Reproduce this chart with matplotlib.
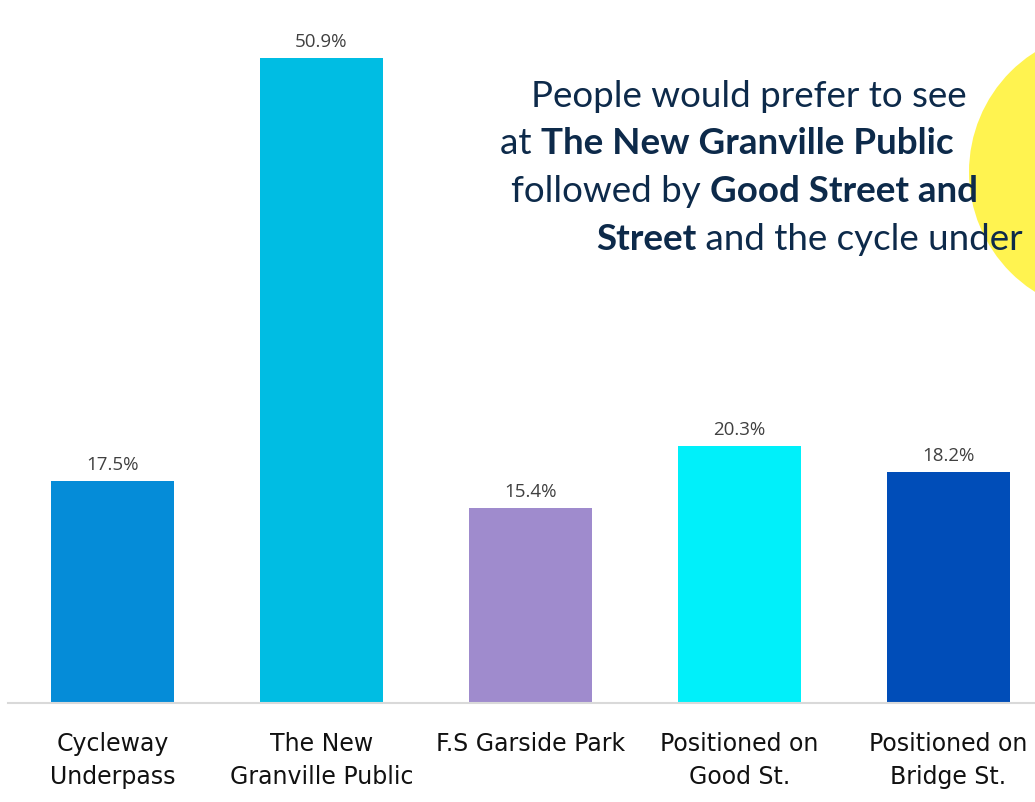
import matplotlib as mpl
mpl.use('Agg')
import matplotlib.pyplot as plt
from matplotlib.patches import Circle

categorias = ['Cycleway\nUnderpass', 'The New\nGranville Public', 'F.S Garside Park',
              'Positioned on\nGood St.', 'Positioned on\nBridge St.']
valores = [17.5, 50.9, 15.4, 20.3, 18.2]
cores = ['#058cd8', '#00bde3', '#9f8bcd', '#00f0fa', '#004db8']

# headline lines as (text, bold) pieces
titulo = [
    [('People would prefer to see', False)],
    [('at ', False), ('The New Granville Public', True)],
    [('followed by ', False), ('Good Street and', True)],
    [('Street', True), (' and the cycle under', False)],
]
titulo_x = [531, 500, 511, 596]
titulo_y = [107, 154, 202, 250]

W, H = 1035, 803
fig = plt.figure(figsize=(W / 100, H / 100), dpi=100)
fig.patch.set_facecolor('white')

# yellow blob behind the headline
circ = Circle(((1111) / 100, (H - 173) / 100), 142 / 100,
              transform=fig.dpi_scale_trans,
              facecolor='#fff350', edgecolor='none', zorder=0)
fig.patches.append(circ)

# axes: x=-0.5 at pixel 8, 209 px per category, baseline at y=703
passo = 209.0
x0 = 8.0
ax = fig.add_axes([x0 / W, (H - 704) / H, (W - x0) / W, 704 / H])
ax.set_facecolor('none')
ax.set_xlim(-0.5, -0.5 + (W - x0) / passo)
ax.set_ylim(0, 704 / 12.67)

pos = list(range(len(valores)))
ax.bar(pos, valores, width=123 / passo, color=cores, zorder=2)
for p, v in zip(pos, valores):
    ax.text(p, v + 0.65, '%.1f%%' % v, ha='center', va='bottom',
            fontsize=13.5, color='#404040', family='Open Sans')

for s in ['top', 'right', 'left']:
    ax.spines[s].set_visible(False)
ax.spines['bottom'].set_color('#d9d9d9')
ax.spines['bottom'].set_linewidth(1.5)
ax.set_yticks([])
ax.set_xticks(pos)
ax.set_xticklabels(categorias, fontsize=17, color='#111111', linespacing=1.5)
ax.tick_params(axis='x', length=0, pad=20)

# headline, piece by piece
fig.canvas.draw()
r = fig.canvas.get_renderer()
for linha, xl, yl in zip(titulo, titulo_x, titulo_y):
    x = xl
    for txt, negrito in linha:
        t = fig.text(x / W, 1 - yl / H, txt, fontsize=26.5, color='#0d2a4a',
                     family='Lato', fontweight='bold' if negrito else 'normal',
                     ha='left', va='baseline', zorder=5)
        bb = t.get_window_extent(renderer=r)
        x = bb.x1

fig.savefig('out.png', dpi=100)
